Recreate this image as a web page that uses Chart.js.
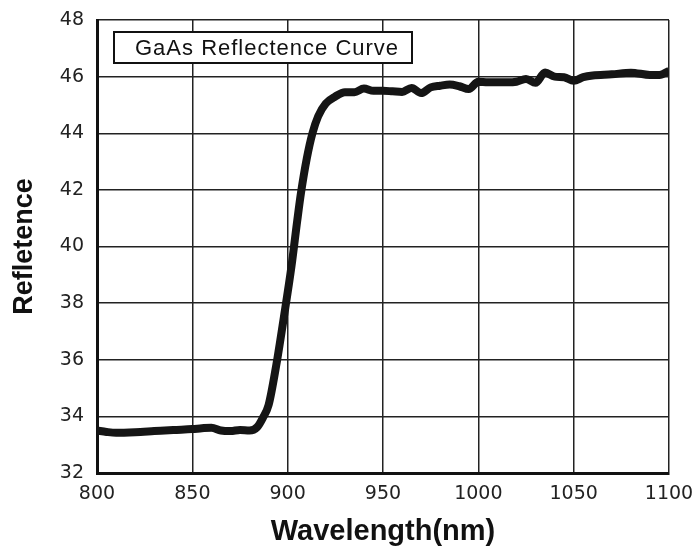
<!DOCTYPE html>
<html>
<head>
<meta charset="utf-8">
<script src="https://cdn.jsdelivr.net/npm/chart.js@4"></script>
<style>
  html, body { margin: 0; padding: 0; background: #fff; }
  #wrap { width: 695px; height: 549px; }
</style>
</head>
<body>
<div id="wrap"><canvas id="c" width="695" height="549"></canvas></div>
<script>
const wavelengths = [800, 805, 810, 820, 830, 840, 850, 855, 860, 865, 870, 875, 880, 884, 887, 890, 894, 898, 902, 905, 907, 910, 913, 916, 920, 925, 930, 935, 940, 945, 950, 955, 960, 965, 970, 975, 980, 985, 990, 995, 1000, 1005, 1010, 1015, 1020, 1025, 1030, 1035, 1040, 1045, 1050, 1055, 1060, 1070, 1080, 1090, 1095, 1100];
const reflectance = [33.50, 33.45, 33.42, 33.44, 33.48, 33.52, 33.55, 33.58, 33.60, 33.50, 33.48, 33.52, 33.50, 33.62, 33.95, 34.40, 35.80, 37.50, 39.30, 40.90, 41.90, 43.10, 44.00, 44.60, 45.05, 45.30, 45.45, 45.45, 45.58, 45.50, 45.50, 45.48, 45.46, 45.60, 45.42, 45.62, 45.68, 45.72, 45.66, 45.56, 45.82, 45.80, 45.80, 45.80, 45.82, 45.92, 45.78, 46.15, 46.00, 45.98, 45.85, 45.98, 46.04, 46.08, 46.14, 46.06, 46.06, 46.20];
const xTicks = [800, 850, 900, 950, 1000, 1050, 1100];
const yTicks = [32, 34, 36, 38, 40, 42, 44, 46, 48];
const chartLabel = 'GaAs Reflectence Curve';
const xTitle = 'Wavelength(nm)';
const yTitle = 'Refletence';

const points = wavelengths.map((w, i) => ({ x: w, y: reflectance[i] }));

const labelBox = {
  id: 'labelBox',
  afterDraw(chart) {
    const { ctx, chartArea } = chart;
    const x = chartArea.left + 17, y = chartArea.top + 12, w = 298, h = 31;
    ctx.save();
    ctx.fillStyle = '#fff';
    ctx.fillRect(x, y, w, h);
    ctx.strokeStyle = '#111';
    ctx.lineWidth = 2;
    ctx.strokeRect(x, y, w, h);
    ctx.fillStyle = '#111';
    ctx.font = '22px "Liberation Sans", Arial, sans-serif';
    if ('letterSpacing' in ctx) ctx.letterSpacing = '1px';
    ctx.textBaseline = 'middle';
    ctx.textAlign = 'left';
    ctx.fillText(chartLabel, x + 21, y + h / 2 + 1);
    ctx.restore();
  }
};

new Chart(document.getElementById('c'), {
  type: 'line',
  data: {
    datasets: [{
      data: points,
      borderColor: '#151515',
      borderWidth: 8,
      pointRadius: 0,
      tension: 0.4,
      cubicInterpolationMode: 'monotone',
      fill: false
    }]
  },
  options: {
    responsive: false,
    animation: false,
    layout: { padding: { top: 20, right: 26, left: 0, bottom: 0 } },
    plugins: { legend: { display: false }, tooltip: { enabled: false } },
    scales: {
      x: {
        type: 'linear',
        min: 800, max: 1100,
        afterBuildTicks(scale) { scale.ticks = xTicks.map(v => ({ value: v })); },
        afterFit(scale) { scale.height = 76; scale.paddingLeft = 0; scale.paddingRight = 0; },
        grid: { color: '#222', lineWidth: 1.5, drawTicks: false },
        border: { color: '#111', width: 3 },
        ticks: {
          color: '#222', padding: 10,
          callback: v => String(v),
          font: { family: '"DejaVu Sans", sans-serif', size: 19 }
        },
        title: {
          display: true, text: xTitle, color: '#111',
          font: { family: '"Liberation Sans", Arial, sans-serif', size: 29, weight: 'bold' },
          padding: { top: 0, bottom: 0 }
        }
      },
      y: {
        min: 32, max: 48,
        afterBuildTicks(scale) { scale.ticks = yTicks.map(v => ({ value: v })); },
        afterFit(scale) { scale.width = 97; scale.paddingTop = 0; scale.paddingBottom = 0; },
        grid: { color: '#222', lineWidth: 1.5, drawTicks: false },
        border: { color: '#111', width: 3 },
        ticks: {
          color: '#222', padding: 13,
          callback: v => String(v),
          font: { family: '"DejaVu Sans", sans-serif', size: 19 }
        },
        title: {
          display: true, text: yTitle, color: '#111',
          font: { family: '"Liberation Sans", Arial, sans-serif', size: 27, weight: 'bold' },
          padding: { top: 8, bottom: 0 }
        }
      }
    }
  },
  plugins: [labelBox]
});
</script>
</body>
</html>
